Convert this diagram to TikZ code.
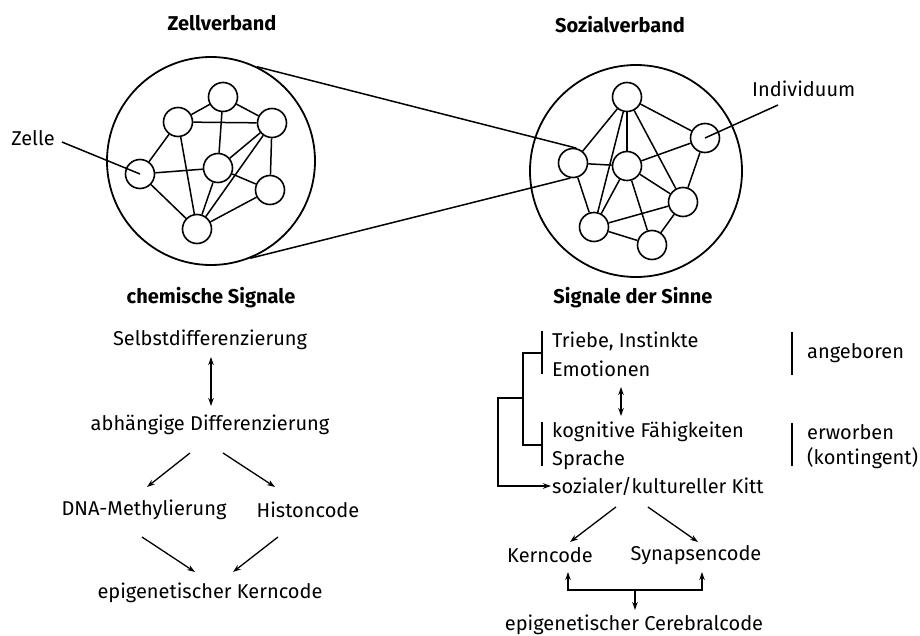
\documentclass[tikz,border=0pt]{standalone}
\usepackage{fontspec}
\setmainfont{Fira Sans}
\usetikzlibrary{arrows.meta,calc}
\begin{document}
\begin{tikzpicture}[x=1pt,y=-1pt,
  cell/.style={circle,draw,line width=1.6pt,minimum size=29pt,inner sep=0pt},
  big/.style={circle,draw,line width=1.8pt,inner sep=0pt},
  ln/.style={line width=1.5pt},
  txt/.style={font=\fontsize{20}{23}\selectfont,inner sep=1pt},
  ttl/.style={font=\fontsize{20}{23}\selectfont\bfseries,inner sep=1pt},
  lt/.style={txt,anchor=west},
  arr/.style={line width=1.3pt,-{Stealth[length=8pt,width=5.5pt]}},
  darr/.style={line width=1.3pt,{Stealth[length=8pt,width=5.5pt]}-{Stealth[length=8pt,width=5.5pt]}}
]
\useasboundingbox (0,0) rectangle (920,636);
\fill[white] (0,0) rectangle (920,636);

% titles
\node[ttl] (zv) at (222,23) {Zellverband};
\node[ttl] (sv) at (620,25) {Sozialverband};

% big circles
\node[big,minimum size=208pt] (bigL) at (211,161) {};
\node[big,minimum size=212pt] (bigR) at (636,171) {};

% left cells
\node[cell] (l1) at (223,97) {};
\node[cell] (l2) at (178,122) {};
\node[cell] (l3) at (272,123) {};
\node[cell] (l4) at (140,174) {};
\node[cell] (l5) at (218,168) {};
\node[cell] (l6) at (270,190) {};
\node[cell] (l7) at (197,229) {};
\foreach \a/\b in {l1/l2,l1/l3,l1/l5,l2/l3,l2/l4,l2/l7,l3/l5,l3/l6,l3/l7,l4/l5,l4/l7,l5/l6,l5/l7,l6/l7}
  \draw[ln] (\a) -- (\b);

% right cells
\node[cell] (r1) at (627,97) {};
\node[cell] (r2) at (705,138) {};
\node[cell] (r3) at (573,163) {};
\node[cell] (r4) at (627,166) {};
\node[cell] (r5) at (683,202) {};
\node[cell] (r6) at (594,227) {};
\node[cell] (r7) at (652,245) {};
\foreach \a/\b in {r1/r3,r1/r4,r1/r2,r1/r6,r1/r5,r3/r4,r3/r6,r4/r2,r4/r6,r4/r5,r4/r7,r2/r5,r5/r6,r6/r7,r5/r7}
  \draw[ln] (\a) -- (\b);

% zoom lines
\draw[ln] (bigL.64) -- (r3.78);
\draw[ln] (bigL.-68) -- (r3.-100);

% labels
\node[txt] (zelle) at (33,138) {Zelle};
\draw[ln] ([shift={(6,4)}]zelle.east) -- (l4.center);
\node[txt,anchor=west] (ind) at (751,89) {Individuum};
\coordinate (indend) at (778,105);
\draw[ln] (indend) -- (r2.center);

% left flow
\node[ttl] (cs) at (211,298) {chemische Signale};
\node[txt] (s1) at (210,340) {Selbstdifferenzierung};
\node[txt] (s2) at (210,425) {abhängige Differenzierung};
\node[txt] (s3) at (144,510) {DNA-Methylierung};
\node[txt] (s4) at (308,510) {Histoncode};
\node[txt] (s5) at (210,593) {epigenetischer Kerncode};
\draw[darr] ([shift={(1,17)}]s1.center) -- ([shift={(1,-19)}]s2.center);
\draw[arr] ([shift={(-20,28)}]s2.center) -- ([shift={(3,-23)}]s3.center);
\draw[arr] ([shift={(13,28)}]s2.center) -- ([shift={(-33,-23)}]s4.center);
\draw[arr] ([shift={(-2,27)}]s3.center) -- ([shift={(-15,-21)}]s5.center);
\draw[arr] ([shift={(-30,27)}]s4.center) -- ([shift={(23,-21)}]s5.center);

% right flow
\node[ttl] (sds) at (633,298) {Signale der Sinne};
\node[lt] (tr) at (551,341) {Triebe, Instinkte};
\node[lt] (em) at (551,369) {Emotionen};
\node[lt] (ko) at (551,432) {kognitive Fähigkeiten};
\node[lt] (sp) at (551,460) {Sprache};
\node[lt] (ki) at (551,486) {sozialer/kultureller Kitt};
\node[lt] (an) at (806,353) {angeboren};
\node[lt] (er) at (806,432) {erworben};
\node[lt] (kt) at (806,458) {(kontingent)};

% brackets and tree
\draw[ln] (542,331) -- (542,374);
\draw[ln] (542,422) -- (542,466);
\draw[ln] (542,353) -- (523,353) -- (523,445) -- (542,445);
\draw[arr] (523,398) -- (498,398) |- (ki.west);
\draw[darr] ([shift={(70,18)}]em.west) -- ([shift={(70,-16)}]ko.west);
\draw[ln] (792,332) -- (792,375);
\draw[ln] (792,423) -- (792,466);

\node[txt] (kc) at (550,555) {Kerncode};
\node[txt] (sc) at (696,555) {Synapsencode};
\node[txt] (cc) at (634,625) {epigenetischer Cerebralcode};
\draw[arr] ([shift={(-42,21)}]ki.center) -- ([shift={(20,-13)}]kc.center);
\draw[arr] ([shift={(-10,21)}]ki.center) -- ([shift={(2,-13)}]sc.center);
\coordinate (jn) at (635,590);
\draw[arr] (jn) -| ([shift={(18,17)}]kc.center);
\draw[arr] (jn) -| ([shift={(6,17)}]sc.center);
\draw[arr] (jn) -- ([shift={(1,-15)}]cc.center);
\end{tikzpicture}
\end{document}
